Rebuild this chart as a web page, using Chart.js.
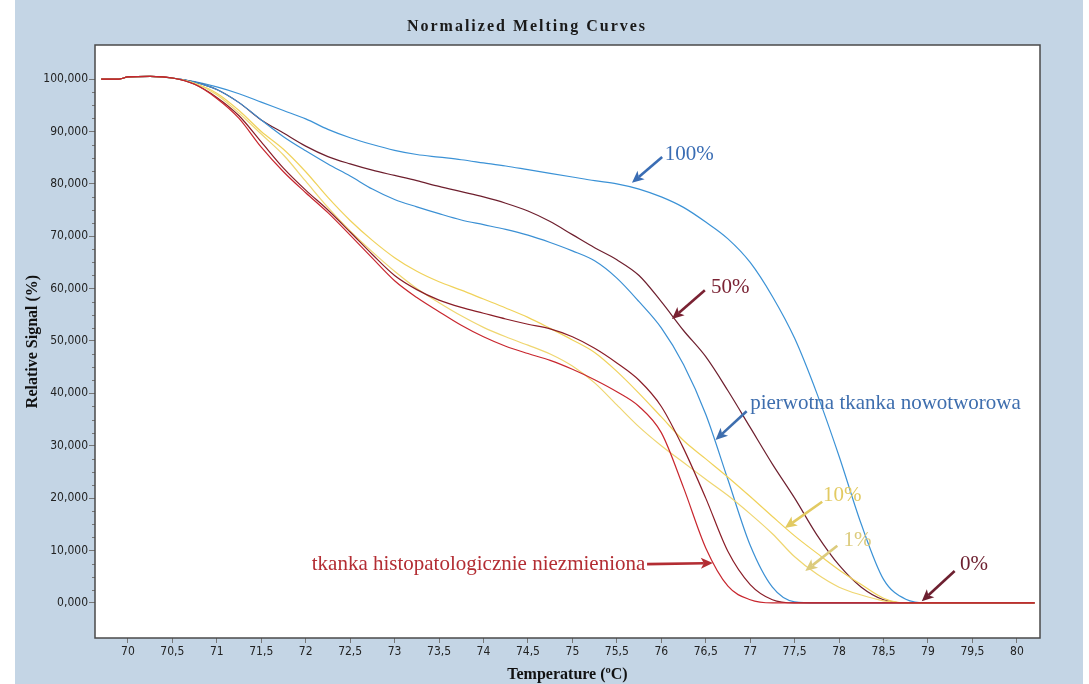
<!DOCTYPE html>
<html>
<head>
<meta charset="utf-8">
<script src="https://cdn.jsdelivr.net/npm/chart.js@4.4.0/dist/chart.umd.min.js"></script>
<style>
  html, body { margin: 0; padding: 0; background: #fff; }
  #wrap { width: 1089px; height: 684px; }
</style>
</head>
<body>
<div id="wrap"><canvas id="chart" width="1089" height="684"></canvas></div>
<script>
// temperature grid (°C) shared by all curves
const temps = [69.7, 69.9, 70, 70.25, 70.5, 70.75, 71, 71.25, 71.5, 71.75, 72, 72.25, 72.5, 72.75,
  73, 73.25, 73.5, 73.75, 74, 74.25, 74.5, 74.75, 75, 75.25, 75.5, 75.75, 76, 76.25, 76.5, 76.75,
  77, 77.25, 77.5, 77.75, 78, 78.25, 78.5, 78.75, 79, 79.25, 79.5, 79.75, 80, 80.2];

// relative signal (%)
const tissueNormal = [100, 100, 100.4, 100.5, 100.2, 99.0, 96.3, 92.5, 87.0, 82.3, 78.3, 74.5, 70.2, 65.8,
  61.5, 58.3, 55.6, 53.0, 50.8, 49.0, 47.6, 46.3, 44.6, 42.6, 40.3, 37.5, 32.5, 22.0, 10.5, 3.2,
  0.6, 0, 0, 0, 0, 0, 0, 0, 0, 0, 0, 0, 0, 0];
const mix0 = [100, 100, 100.4, 100.5, 100.2, 99.0, 96.5, 93.0, 88.0, 83.0, 78.8, 75.0, 70.8, 66.5,
  62.5, 59.8, 57.8, 56.4, 55.3, 54.2, 53.2, 52.3, 50.8, 48.6, 45.8, 42.5, 37.5, 29.5, 20.0, 9.8,
  3.5, 0.6, 0, 0, 0, 0, 0, 0, 0, 0, 0, 0, 0, 0];
const mix1 = [100, 100, 100.4, 100.5, 100.2, 99.2, 97.0, 93.5, 89.5, 85.5, 80.5, 75.5, 71.0, 67.0,
  63.3, 60.0, 57.3, 54.8, 52.6, 50.8, 49.2, 47.5, 45.2, 42.0, 37.8, 33.6, 30.0, 26.8, 23.6, 20.5,
  17.0, 13.2, 8.8, 5.5, 3.0, 1.5, 0.4, 0, 0, 0, 0, 0, 0, 0];
const mix10 = [100, 100, 100.4, 100.5, 100.2, 99.2, 97.3, 94.0, 90.0, 86.6, 82.3, 77.4, 73.0, 69.2,
  65.9, 63.3, 61.3, 59.7, 58.0, 56.3, 54.5, 52.4, 50.2, 47.8, 44.2, 40.0, 35.5, 31.0, 27.5, 24.0,
  20.3, 16.5, 12.8, 9.5, 6.3, 3.5, 0.9, 0, 0, 0, 0, 0, 0, 0];
const tumour = [100, 100, 100.4, 100.5, 100.2, 99.4, 98.0, 95.5, 92.2, 89.0, 86.3, 83.8, 81.5, 79.0,
  77.0, 75.6, 74.3, 73.1, 72.2, 71.3, 70.2, 68.8, 67.2, 65.3, 62.0, 57.5, 52.5, 45.5, 36.0, 23.5,
  11.0, 3.0, 0.2, 0, 0, 0, 0, 0, 0, 0, 0, 0, 0, 0];
const mix50 = [100, 100, 100.4, 100.5, 100.2, 99.4, 98.0, 95.5, 92.2, 89.7, 87.2, 85.2, 83.8, 82.6,
  81.6, 80.6, 79.5, 78.5, 77.5, 76.3, 74.8, 72.8, 70.3, 67.8, 65.5, 62.5, 57.5, 52.0, 47.0, 40.5,
  33.5, 26.5, 20.0, 13.0, 7.2, 3.0, 0.6, 0, 0, 0, 0, 0, 0, 0];
const mix100 = [100, 100, 100.4, 100.5, 100.2, 99.5, 98.5, 97.2, 95.6, 94.0, 92.4, 90.4, 88.8, 87.5,
  86.4, 85.6, 85.1, 84.6, 84.0, 83.4, 82.7, 82.0, 81.3, 80.6, 80.0, 79.0, 77.5, 75.5, 72.7, 69.5,
  65.0, 58.5, 50.5, 40.0, 28.0, 15.0, 4.5, 0.7, 0, 0, 0, 0, 0, 0];

const xTicks = [70, 70.5, 71, 71.5, 72, 72.5, 73, 73.5, 74, 74.5, 75, 75.5, 76, 76.5, 77, 77.5,
  78, 78.5, 79, 79.5, 80];
const yTicks = [];
for (let k = 0; k <= 40; k++) yTicks.push(k * 2.5);

// callouts: label, text anchor (x,y), arrow start and tip, in data units
const notes = [
  { text: '100%', color: '#3a6db4', align: 'left', at: [76.04, 85.6], from: [76.01, 85.1], to: [75.67, 80.2] },
  { text: '50%', color: '#7a2233', align: 'left', at: [76.56, 60.2], from: [76.49, 59.7], to: [76.12, 54.2] },
  { text: 'pierwotna tkanka nowotworowa', color: '#3e6eae', align: 'left', at: [77.0, 38.0], from: [76.96, 36.6], to: [76.61, 31.1] },
  { text: '10%', color: '#e2ca62', align: 'left', at: [77.82, 20.6], from: [77.81, 19.3], to: [77.39, 14.3] },
  { text: '1%', color: '#dccb7c', align: 'left', at: [78.05, 12.0], from: [77.98, 10.9], to: [77.62, 6.1] },
  { text: '0%', color: '#6d2030', align: 'left', at: [79.36, 7.3], from: [79.3, 6.1], to: [78.93, 0.3] },
  { text: 'tkanka histopatologicznie niezmieniona', color: '#b32d33', align: 'right', at: [75.82, 7.3], from: [75.84, 7.4], to: [76.58, 7.6] }
];

const pts = vals => temps.map((t, i) => ({ x: t, y: vals[i] }));
const fmtY = v => v.toFixed(3).replace('.', ',');

const framePlugin = {
  id: 'frame',
  beforeDraw(chart) {
    const { ctx, chartArea: a } = chart;
    ctx.save();
    ctx.fillStyle = '#c4d5e5';
    ctx.fillRect(15, 0, 1068, 684);
    ctx.fillStyle = '#ffffff';
    ctx.fillRect(a.left, a.top, a.right - a.left, a.bottom - a.top);
    ctx.restore();
  },
  afterDatasetsDraw(chart) {
    const { ctx, scales } = chart;
    const xs = scales.x, ys = scales.y;
    ctx.save();
    // callouts
    notes.forEach(n => {
      const x0 = xs.getPixelForValue(n.from[0]), y0 = ys.getPixelForValue(n.from[1]);
      const x1 = xs.getPixelForValue(n.to[0]), y1 = ys.getPixelForValue(n.to[1]);
      const ang = Math.atan2(y1 - y0, x1 - x0);
      const head = 12, half = 5.5;
      const bx = x1 - head * Math.cos(ang), by = y1 - head * Math.sin(ang);
      ctx.strokeStyle = n.color;
      ctx.fillStyle = n.color;
      ctx.lineWidth = 2.6;
      ctx.beginPath();
      ctx.moveTo(x0, y0);
      ctx.lineTo(bx + 3 * Math.cos(ang), by + 3 * Math.sin(ang));
      ctx.stroke();
      ctx.beginPath();
      ctx.moveTo(x1, y1);
      ctx.lineTo(bx + half * Math.sin(ang), by - half * Math.cos(ang));
      ctx.lineTo(bx + 3 * Math.cos(ang), by + 3 * Math.sin(ang));
      ctx.lineTo(bx - half * Math.sin(ang), by + half * Math.cos(ang));
      ctx.closePath();
      ctx.fill();
      ctx.font = '21px "Liberation Serif", "Times New Roman", serif';
      ctx.textAlign = n.align;
      ctx.textBaseline = 'middle';
      ctx.fillText(n.text, xs.getPixelForValue(n.at[0]), ys.getPixelForValue(n.at[1]));
    });
    ctx.restore();
  },
  afterDraw(chart) {
    const { ctx, chartArea: a, scales } = chart;
    ctx.save();
    // minor ticks on the y axis
    ctx.strokeStyle = '#777';
    ctx.lineWidth = 1;
    yTicks.forEach(v => {
      if (v % 10 === 0) return;
      const y = Math.round(scales.y.getPixelForValue(v)) + 0.5;
      ctx.beginPath();
      ctx.moveTo(a.left - 3, y);
      ctx.lineTo(a.left, y);
      ctx.stroke();
    });
    // plot frame
    ctx.strokeStyle = '#4a4a4a';
    ctx.lineWidth = 1.5;
    ctx.strokeRect(a.left, a.top, a.right - a.left, a.bottom - a.top);
    // title
    ctx.fillStyle = '#1a1a1a';
    ctx.font = 'bold 16px "Liberation Serif", "Times New Roman", serif';
    ctx.textAlign = 'center';
    ctx.textBaseline = 'middle';
    if ('letterSpacing' in ctx) ctx.letterSpacing = '2px';
    ctx.fillText('Normalized Melting Curves', 527, 27);
    ctx.restore();
  }
};

const line = (vals, color) => ({
  data: pts(vals),
  borderColor: color,
  borderWidth: 1.2,
  pointRadius: 0,
  fill: false,
  cubicInterpolationMode: 'monotone'
});

new Chart(document.getElementById('chart'), {
  type: 'line',
  data: {
    datasets: [
      line(tissueNormal, '#c8262e'),
      line(mix0, '#8a1d27'),
      line(mix1, '#efd670'),
      line(mix10, '#f0d25a'),
      line(tumour, '#3b90d4'),
      line(mix50, '#6e1f2e'),
      line(mix100, '#3b92d6')
    ]
  },
  options: {
    responsive: false,
    animation: false,
    layout: { padding: { left: 12, right: 49, top: 45, bottom: 0 } },
    plugins: { legend: { display: false }, tooltip: { enabled: false }, title: { display: false } },
    scales: {
      x: {
        type: 'linear',
        min: 69.63,
        max: 80.26,
        afterBuildTicks: s => { s.ticks = xTicks.map(v => ({ value: v })); },
        afterFit: s => { s.height = 46; },
        ticks: {
          autoSkip: false, maxRotation: 0, padding: 2, color: '#222',
          font: { family: 'Tahoma, "DejaVu Sans Condensed", "Liberation Sans", sans-serif', size: 12 },
          callback: v => String(v).replace('.', ',')
        },
        grid: { drawOnChartArea: false, drawTicks: true, tickLength: 5, tickColor: '#777' },
        border: { display: false },
        title: {
          display: true, text: 'Temperature (ºC)', color: '#111', padding: 0,
          font: { family: '"Liberation Serif", "Times New Roman", serif', size: 16, weight: 'bold' }
        }
      },
      y: {
        min: -6.7,
        max: 106.5,
        afterBuildTicks: s => { s.ticks = yTicks.map(v => ({ value: v })); },
        afterFit: s => { s.width = 83; },
        ticks: {
          autoSkip: false, padding: 1, color: '#222',
          font: { family: 'Tahoma, "DejaVu Sans Condensed", "Liberation Sans", sans-serif', size: 12 },
          callback: v => (v % 10 === 0 ? fmtY(v) : '')
        },
        grid: {
          drawOnChartArea: false, drawTicks: true, tickLength: 6,
          tickColor: c => (c.tick && c.tick.value % 10 === 0 ? '#777' : 'rgba(0,0,0,0)')
        },
        border: { display: false },
        title: {
          display: true, text: 'Relative Signal (%)', color: '#111', padding: 11,
          font: { family: '"Liberation Serif", "Times New Roman", serif', size: 16, weight: 'bold' }
        }
      }
    }
  },
  plugins: [framePlugin]
});
</script>
</body>
</html>
